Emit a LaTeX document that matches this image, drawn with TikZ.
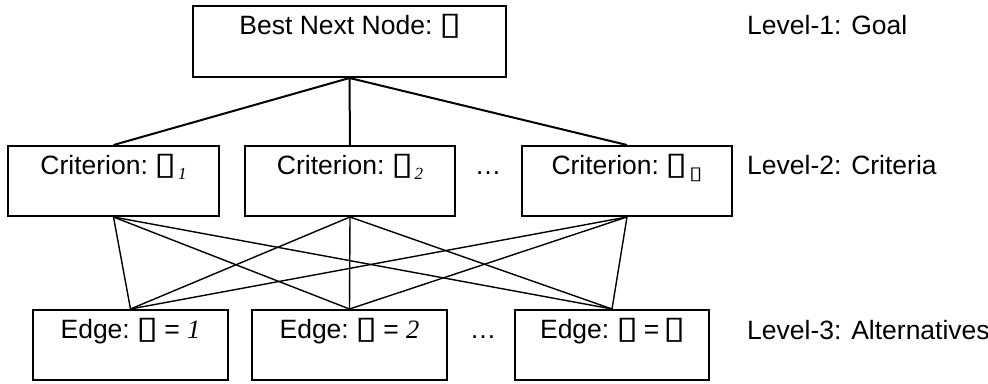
\documentclass[tikz,border=0pt]{standalone}
\usepackage{fontspec}
\usepackage{graphicx}
\setmainfont{Liberation Sans}
\newfontfamily\symfont{DejaVu Sans}
\newfontfamily\myseriffont{Liberation Serif}
\newcommand\bx{{\kern-3pt\symfont\fontsize{30}{30}\selectfont\scalebox{1.35}[1.05]{▯}\kern-2pt}}
\newcommand\sbx{{\symfont\fontsize{18}{18}\selectfont\scalebox{1.35}[1]{▯}}}
\newcommand\itd[1]{{\myseriffont\itshape #1}}
\newcommand\subsc[1]{\kern3pt\raisebox{-5pt}{\fontsize{17}{17}\selectfont #1}}
\begin{document}
\begin{tikzpicture}[x=1pt,y=-1pt,
  box/.style={draw,line width=2pt,rectangle,inner sep=0pt,minimum height=70pt},
  txt/.style={anchor=base,inner sep=0pt,font=\fontsize{26.5}{30}\selectfont},
  lvl/.style={anchor=base west,inner sep=0pt,font=\fontsize{26.5}{30}\selectfont},
  top/.style={line width=2pt},
  cross/.style={line width=1.4pt}]
\useasboundingbox (0,0) rectangle (988,383);
% boxes
\node[box,minimum width=313pt,minimum height=71pt] (goal) at (349.5,41.5) {};
\node[box,minimum width=211pt] (c1) at (113.5,181) {};
\node[box,minimum width=210pt] (c2) at (350,181) {};
\node[box,minimum width=210pt] (c3) at (627,181) {};
\node[box,minimum width=195pt] (a1) at (130.5,345) {};
\node[box,minimum width=195pt] (a2) at (349.5,345) {};
\node[box,minimum width=194pt] (a3) at (612,345) {};
% texts
\node[txt] (tgoal) at ([yshift=-29pt]goal.north) {Best Next Node: \bx};
\node[txt] (tc1) at ([yshift=-29pt]c1.north) {Criterion: \bx\subsc{\itd{1}}};
\node[txt] (tc2) at ([yshift=-29pt]c2.north) {Criterion: \bx\subsc{\itd{2}}};
\node[txt] (tc3) at ([yshift=-29pt]c3.north) {Criterion: \bx\subsc{\sbx}};
\node[txt] (ta1) at ([yshift=-29pt]a1.north) {Edge: \bx\ = \itd{1}};
\node[txt] (ta2) at ([yshift=-29pt]a2.north) {Edge: \bx\ = \itd{2}};
\node[txt] (ta3) at ([yshift=-29pt]a3.north) {Edge: \bx\ = \bx};
\node[txt] (dots1) at (488,174) {…};
\node[txt] (dots2) at (483,338) {…};
% level labels
\node[lvl] (l1) at (747,34) {Level-1: Goal};
\node[lvl] (l2) at (747,174) {Level-2: Criteria};
\node[lvl] (l3) at (747,339) {Level-3: Alternatives};
% connectors
\foreach \c in {c1,c2,c3} \draw[top] (goal.south) -- (\c.north);
\foreach \c in {c1,c2,c3} \foreach \a in {a1,a2,a3} \draw[cross] (\c.south) -- (\a.north);
\end{tikzpicture}
\end{document}
